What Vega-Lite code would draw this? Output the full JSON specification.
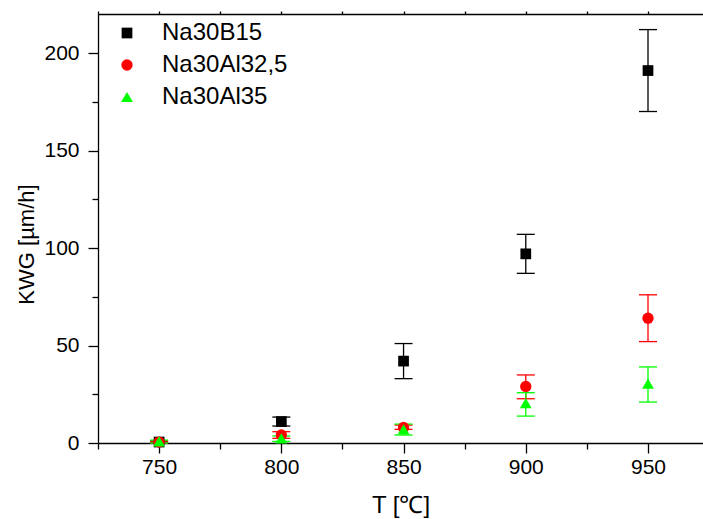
{
  "$schema": "https://vega.github.io/schema/vega-lite/v6.json",
  "width": 605,
  "height": 429,
  "autosize": {"type": "none"},
  "padding": {"left": 98, "top": 14, "right": 0, "bottom": 76},
  "background": "white",
  "config": {
    "view": {"stroke": null},
    "font": "Liberation Sans",
    "axis": {
      "grid": false,
      "labelColor": "black",
      "titleColor": "black",
      "tickColor": "black",
      "domainColor": "black",
      "domainWidth": 1.3,
      "tickWidth": 1.3,
      "labelFont": "Liberation Sans",
      "titleFont": "Liberation Sans",
      "titleFontWeight": "normal",
      "labelOverlap": false,
      "labelFlush": false
    },
    "legend": {
      "orient": "none", "legendX": 17, "legendY": 7,
      "title": null, "labelFontSize": 24, "labelFont": "Liberation Sans",
      "labelColor": "black", "rowPadding": 8, "symbolSize": 140,
      "labelOffset": 23, "padding": 0, "symbolStrokeWidth": 0
    }
  },
  "data": {
    "values": [
      {"series": "Na30B15", "T": 750, "v": 0.5, "lo": 0, "hi": 1},
      {"series": "Na30B15", "T": 800, "v": 11, "lo": 8.7, "hi": 13.3},
      {"series": "Na30B15", "T": 850, "v": 42, "lo": 33, "hi": 51},
      {"series": "Na30B15", "T": 900, "v": 97, "lo": 87, "hi": 107},
      {"series": "Na30B15", "T": 950, "v": 191, "lo": 170, "hi": 212},
      {"series": "Na30Al32,5", "T": 750, "v": 0.5, "lo": 0, "hi": 1},
      {"series": "Na30Al32,5", "T": 800, "v": 4.1, "lo": 2.4, "hi": 5.8},
      {"series": "Na30Al32,5", "T": 850, "v": 8, "lo": 7, "hi": 9.2},
      {"series": "Na30Al32,5", "T": 900, "v": 29, "lo": 22.7, "hi": 34.9},
      {"series": "Na30Al32,5", "T": 950, "v": 64, "lo": 52, "hi": 76},
      {"series": "Na30Al35", "T": 750, "v": 0.8, "lo": 0, "hi": 1.5},
      {"series": "Na30Al35", "T": 800, "v": 2.4, "lo": 0.8, "hi": 3.6},
      {"series": "Na30Al35", "T": 850, "v": 7, "lo": 4.1, "hi": 9.7},
      {"series": "Na30Al35", "T": 900, "v": 20.5, "lo": 13.8, "hi": 25.8},
      {"series": "Na30Al35", "T": 950, "v": 30.5, "lo": 21, "hi": 39}
    ]
  },
  "resolve": {"axis": {"x": "independent"}},
  "layer": [
    {
      "mark": {"type": "rule", "strokeWidth": 1.3},
      "encoding": {
        "x": {
          "field": "T", "type": "quantitative",
          "scale": {"domain": [725, 972.5], "nice": false, "zero": false},
          "axis": {
            "orient": "top",
            "values": [725, 750, 775, 800, 825, 850, 875, 900, 925, 950],
            "labels": false, "title": null, "tickSize": 3
          }
        },
        "y": {
          "field": "lo", "type": "quantitative", "scale": {"domain": [0, 220], "nice": false},
          "axis": {
            "values": [0, 25, 50, 75, 100, 125, 150, 175, 200],
            "labelExpr": "datum.value % 50 === 0 ? datum.label : ''",
            "tickSize": {"condition": {"test": "datum.value % 50 === 0", "value": 10}, "value": 6},
            "labelFontSize": 21, "labelPadding": 9,
            "title": "KWG [µm/h]", "titleFontSize": 22, "titlePadding": 5, "titleY": 230
          }
        },
        "y2": {"field": "hi"},
        "color": {
          "field": "series", "type": "nominal",
          "scale": {"domain": ["Na30B15", "Na30Al32,5", "Na30Al35"], "range": ["#000000", "#ff0000", "#00ff00"]}
        }
      }
    },
    {
      "mark": {"type": "tick", "orient": "horizontal", "size": 18, "thickness": 1.3, "opacity": 1},
      "encoding": {
        "x": {"field": "T", "type": "quantitative", "axis": null},
        "y": {
          "field": "lo", "type": "quantitative",
          "axis": {
            "values": [0, 25, 50, 75, 100, 125, 150, 175, 200],
            "labelExpr": "datum.value % 50 === 0 ? datum.label : ''",
            "tickSize": {"condition": {"test": "datum.value % 50 === 0", "value": 10}, "value": 6},
            "labelFontSize": 21, "labelPadding": 9,
            "title": "KWG [µm/h]", "titleFontSize": 22, "titlePadding": 5, "titleY": 230
          }
        },
        "color": {"field": "series", "type": "nominal"}
      }
    },
    {
      "mark": {"type": "tick", "orient": "horizontal", "size": 18, "thickness": 1.3, "opacity": 1},
      "encoding": {
        "x": {"field": "T", "type": "quantitative", "axis": null},
        "y": {
          "field": "hi", "type": "quantitative",
          "axis": {
            "values": [0, 25, 50, 75, 100, 125, 150, 175, 200],
            "labelExpr": "datum.value % 50 === 0 ? datum.label : ''",
            "tickSize": {"condition": {"test": "datum.value % 50 === 0", "value": 10}, "value": 6},
            "labelFontSize": 21, "labelPadding": 9,
            "title": "KWG [µm/h]", "titleFontSize": 22, "titlePadding": 5, "titleY": 230
          }
        },
        "color": {"field": "series", "type": "nominal"}
      }
    },
    {
      "mark": {"type": "point", "filled": true, "opacity": 1, "strokeWidth": 0},
      "encoding": {
        "x": {
          "field": "T", "type": "quantitative",
          "axis": {
            "orient": "bottom",
            "values": [725, 750, 775, 800, 825, 850, 875, 900, 925, 950],
            "labelExpr": "datum.value % 50 === 0 ? datum.label : ''",
            "tickSize": {"condition": {"test": "datum.value % 50 === 0", "value": 10}, "value": 6},
            "labelFontSize": 21,
            "labelPadding": 3,
            "title": "T [℃]",
            "titleFontSize": 24,
            "titlePadding": 16
          }
        },
        "y": {
          "field": "v", "type": "quantitative",
          "axis": {
            "values": [0, 25, 50, 75, 100, 125, 150, 175, 200],
            "labelExpr": "datum.value % 50 === 0 ? datum.label : ''",
            "tickSize": {"condition": {"test": "datum.value % 50 === 0", "value": 10}, "value": 6},
            "labelFontSize": 21, "labelPadding": 9,
            "title": "KWG [µm/h]", "titleFontSize": 22, "titlePadding": 5, "titleY": 230
          }
        },
        "color": {"field": "series", "type": "nominal"},
        "shape": {
          "field": "series", "type": "nominal",
          "scale": {"domain": ["Na30B15", "Na30Al32,5", "Na30Al35"], "range": ["square", "circle", "triangle-up"]}
        },
        "size": {
          "field": "series", "type": "nominal",
          "scale": {"domain": ["Na30B15", "Na30Al32,5", "Na30Al35"], "range": [115, 140, 190]}
        }
      }
    }
  ]
}
